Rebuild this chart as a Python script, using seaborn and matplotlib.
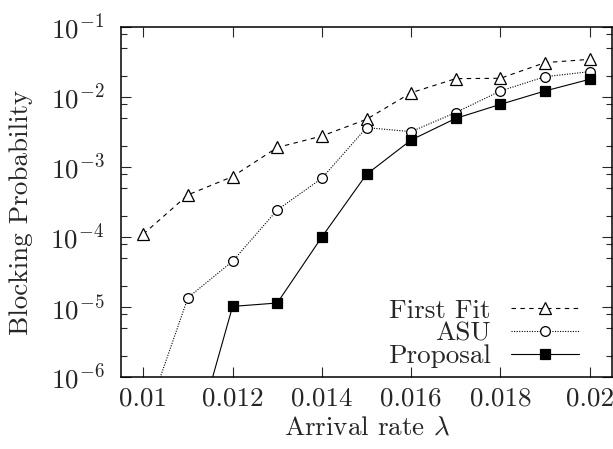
import numpy as np
import pandas as pd
import seaborn as sns
import matplotlib
matplotlib.use("Agg")
import matplotlib.pyplot as plt
from matplotlib.ticker import LogLocator, FixedLocator, NullFormatter

# ---- data ----
arrival = [0.010, 0.011, 0.012, 0.013, 0.014, 0.015, 0.016, 0.017, 0.018, 0.019, 0.020]
first_fit = [1.1e-4, 4.0e-4, 7.3e-4, 1.9e-3, 2.77e-3, 4.8e-3, 1.15e-2, 1.83e-2, 1.85e-2, 3.1e-2, 3.45e-2]
asu = [2.0e-7, 1.36e-5, 4.5e-5, 2.43e-4, 6.9e-4, 3.65e-3, 3.2e-3, 6.0e-3, 1.22e-2, 1.95e-2, 2.3e-2]
proposal = [np.nan, 5.6e-8, 1.02e-5, 1.14e-5, 1.0e-4, 7.85e-4, 2.43e-3, 4.95e-3, 7.85e-3, 1.22e-2, 1.79e-2]
series_names = ["First Fit", "ASU", "Proposal"]
x_ticks = [0.01, 0.012, 0.014, 0.016, 0.018, 0.02]
x_tick_labels = ["0.01", "0.012", "0.014", "0.016", "0.018", "0.02"]

sns.set_style("ticks")
plt.rcParams["font.family"] = "serif"
plt.rcParams["font.serif"] = ["cmr10", "DejaVu Serif"]
plt.rcParams["mathtext.fontset"] = "cm"
plt.rcParams["axes.formatter.use_mathtext"] = True

FS = 19.5
fig = plt.figure(figsize=(6.13, 4.49), dpi=100)
ax = fig.add_axes([121/613, 1-377/449, 491/613, 350/449])

styles = {
    "First Fit": dict(marker="^", ls=(0, (4, 4)), ms=8, mfc="white", mew=0.9),
    "ASU": dict(marker="o", ls=(0, (1, 1.3)), ms=7, mfc="white", mew=0.9),
    "Proposal": dict(marker="s", ls="-", ms=6.8, mfc="black", mew=0.9),
}
for name, vals in zip(series_names, [first_fit, asu, proposal]):
    df = pd.DataFrame({"x": arrival, "y": vals}).dropna()
    st = styles[name]
    sns.lineplot(data=df, x="x", y="y", ax=ax, color="black", lw=0.8,
                 marker=st["marker"], linestyle=st["ls"], markersize=st["ms"],
                 markerfacecolor=st["mfc"], markeredgecolor="black",
                 markeredgewidth=st["mew"], label=name)

ax.set_yscale("log")
ax.set_xlim(0.0095, 0.0205)
ax.set_ylim(1e-6, 1e-1)
ax.set_xticks(x_ticks)
ax.set_xticklabels(x_tick_labels)
ax.yaxis.set_major_locator(LogLocator(base=10, numticks=10))
ax.yaxis.set_minor_locator(LogLocator(base=10, subs=[2, 5, 8], numticks=10))
ax.yaxis.set_minor_formatter(NullFormatter())
ax.xaxis.set_minor_locator(FixedLocator([]))

ax.tick_params(which="both", direction="in", top=True, right=True, labelsize=FS, width=0.8)
ax.tick_params(which="major", length=7)
ax.tick_params(which="minor", length=4)
ax.tick_params(axis="y", pad=12)
ax.tick_params(axis="x", pad=7)
for sp in ax.spines.values():
    sp.set_linewidth(1.1)
    sp.set_color("black")

ax.set_xlabel(r"Arrival rate $\lambda$", fontsize=FS)
ax.set_ylabel("Blocking Probability", fontsize=FS)
ax.xaxis.set_label_coords(0.5, -0.112)
ax.yaxis.set_label_coords(-0.179, 0.47)

leg = ax.legend(loc="lower right", markerfirst=False, frameon=False, fontsize=FS,
                handlelength=2.5, handletextpad=0.75, labelspacing=-0.04,
                borderaxespad=0.2, bbox_to_anchor=(0.965, -0.022))

fig.savefig("out.png", dpi=100)
